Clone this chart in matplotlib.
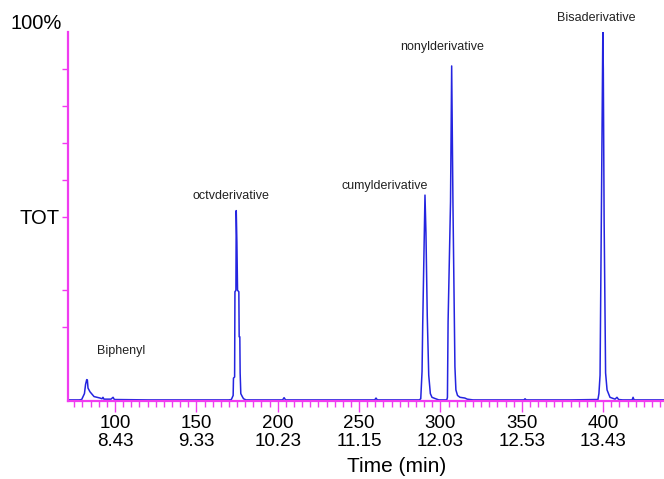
import matplotlib
matplotlib.use("Agg")
import matplotlib.pyplot as plt

plt.rcParams["font.family"] = ["Liberation Sans", "DejaVu Sans"]

# scan number vs relative intensity (%)
scan = [71.5, 78.0, 79.5, 81.2, 81.9, 82.6, 83.0, 83.4, 84.6, 87.1, 90.8, 92.0, 92.6, 93.2, 97.5, 98.8, 99.6,
        120.0, 150.0, 170.0, 171.5, 172.6, 172.8, 173.5, 173.7, 174.3, 174.5, 174.9, 175.3, 176.1, 176.3,
        176.7, 176.9, 177.3, 178.2, 179.0, 180.5, 203.0, 203.9, 204.8, 230.0, 259.6, 260.4, 261.2,
        287.0, 287.9, 288.7, 289.1, 290.5, 291.1, 291.9, 292.8, 293.8, 294.8, 296.5, 299.0,
        303.9, 304.3, 304.7, 306.2, 306.9, 307.7, 308.9, 309.5, 310.5, 312.0, 315.0, 316.5, 320.0,
        351.3, 352.0, 352.7, 380.0, 396.8, 397.4, 398.1, 399.0, 399.8, 400.1, 400.6, 401.5, 402.4,
        404.2, 407.3, 408.5, 409.5, 412.0, 417.8, 418.4, 419.0, 437.5]
intensity = [0.3, 0.3, 0.4, 2.0, 4.5, 5.8, 5.7, 3.5, 2.5, 1.2, 0.8, 0.6, 1.0, 0.5, 0.5, 1.0, 0.4,
             0.3, 0.3, 0.3, 0.4, 1.5, 6.2, 6.5, 29.6, 30.0, 51.6, 43.0, 30.0, 29.6, 17.4,
             17.4, 7.6, 2.0, 1.2, 0.6, 0.3, 0.3, 0.9, 0.3, 0.3, 0.3, 0.8, 0.3,
             0.3, 0.6, 8.0, 20.6, 55.8, 45.5, 23.0, 7.0, 2.0, 1.0, 0.7, 0.3,
             0.3, 1.0, 21.5, 54.0, 90.8, 53.0, 9.3, 3.0, 1.5, 1.0, 0.8, 0.5, 0.3,
             0.3, 0.6, 0.3, 0.3, 0.4, 2.0, 7.0, 55.4, 100.0, 90.0, 49.0, 7.6, 3.0,
             1.0, 0.5, 1.0, 0.4, 0.3, 0.3, 1.0, 0.3, 0.3]

# compound labels and where they sit (scan, %)
peak_names = ["Biphenyl", "octvderivative", "cumylderivative", "nonylderivative", "Bisaderivative"]
label_scan = [103.7, 171.3, 266.0, 301.0, 395.6]
label_pct = [13.6, 55.6, 58.3, 95.8, 103.7]

# dual x labels: scan number / retention time
tick_scan = [100, 150, 200, 250, 300, 350, 400]
tick_time = ["8.43", "9.33", "10.23", "11.15", "12.03", "12.53", "13.43"]
ytick_pos = [20, 30, 50, 60, 70, 80, 90]

MAGENTA = "#f03cf0"
BLUE = "#2424e0"

fig = plt.figure(figsize=(6.64, 4.79), dpi=100)
ax = fig.add_axes([68 / 664, 1 - 401 / 479, 596 / 664, 369 / 479])

ax.plot(scan, intensity, color=BLUE, lw=1.1)

for name, xs, ys in zip(peak_names, label_scan, label_pct):
    ax.text(xs, ys, name, ha="center", va="center", fontsize=9, color="#222222", clip_on=False)

ax.set_xlim(71.1, 437.4)
ax.set_ylim(0, 100)

for s in ("top", "right"):
    ax.spines[s].set_visible(False)
for s in ("left", "bottom"):
    ax.spines[s].set_color(MAGENTA)
    ax.spines[s].set_linewidth(1.6)

ax.set_xticks(tick_scan)
ax.set_xticklabels([f"{s}\n{t}" for s, t in zip(tick_scan, tick_time)], fontsize=13.5, linespacing=1.1)
ax.set_xticks(list(range(75, 436, 5)), minor=True)
ax.tick_params(axis="x", which="major", direction="out", length=8, width=1.0, color=MAGENTA, pad=2)
ax.tick_params(axis="x", which="minor", direction="out", length=4, width=1.0, color=MAGENTA)

ax.set_yticks(ytick_pos)
ax.set_yticklabels(["", "", "TOT", "", "", "", ""], fontsize=14.5)
ax.tick_params(axis="y", direction="out", length=4, width=1.0, color=MAGENTA, pad=2)

ax.text(-0.01, 1.024, "100%", transform=ax.transAxes, ha="right", va="center", fontsize=14.5)

ax.set_xlabel("Time (min)", fontsize=15)
ax.xaxis.set_label_coords((397 - 68) / 596, -0.153)

fig.savefig("out.png", dpi=100)
